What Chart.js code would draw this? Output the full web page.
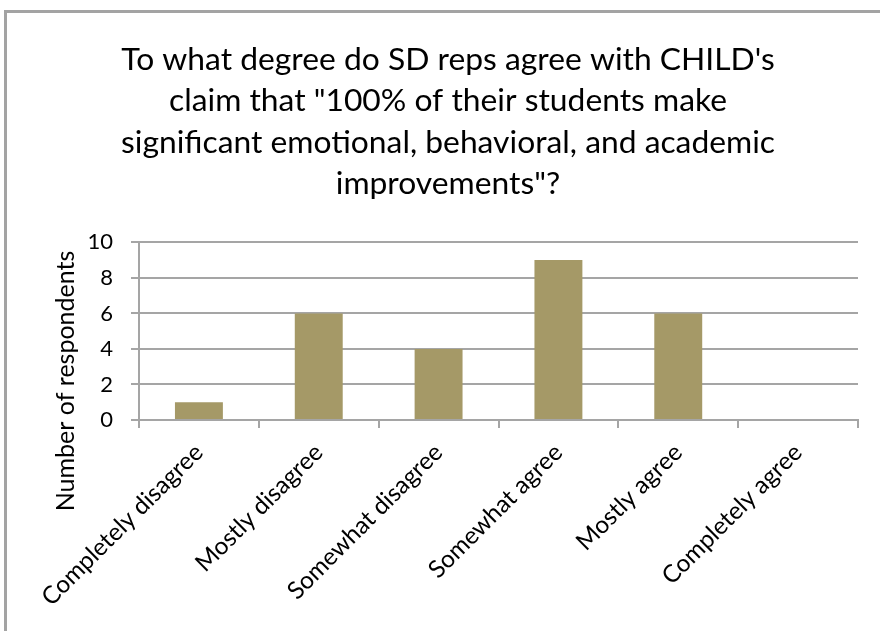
<!DOCTYPE html>
<html>
<head>
<meta charset="utf-8">
<script src="https://cdn.jsdelivr.net/npm/chart.js@4"></script>
<style>
  html, body { margin: 0; padding: 0; background: #fff; overflow: hidden; }
  #wrap { position: relative; width: 880px; height: 631px; }
  #frame { position: absolute; left: 4px; top: 10px; width: 900px; height: 700px; border: 3px solid #a3a3a3; box-sizing: border-box; pointer-events: none; }
  canvas { position: absolute; left: 0; top: 0; }
</style>
</head>
<body>
<div id="wrap">
  <canvas id="c" width="880" height="631"></canvas>
  <div id="frame"></div>
</div>
<script>
const titleLines = [
  "To what degree do SD reps agree with CHILD's",
  "claim that \"100% of their students make",
  "significant emotional, behavioral, and academic",
  "improvements\"?"
];
const categories = [
  "Completely disagree",
  "Mostly disagree",
  "Somewhat disagree",
  "Somewhat agree",
  "Mostly agree",
  "Completely agree"
];
const respondents = [1, 6, 4, 9, 6, 0];
const yAxisTitle = "Number of respondents";
const yMin = 0, yMax = 10, yStep = 2;

const FONT = "Lato, 'Open Sans', sans-serif";
const GRID = '#a5a5a5';

const yTitlePlugin = {
  id: 'yTitle',
  afterDraw(chart) {
    const ctx = chart.ctx;
    ctx.save();
    ctx.translate(66, 381);
    ctx.rotate(-Math.PI / 2);
    ctx.font = "25px " + FONT;
    ctx.fillStyle = '#000';
    ctx.textAlign = 'center';
    ctx.textBaseline = 'middle';
    ctx.fillText(yAxisTitle, 0, 0);
    ctx.restore();
  }
};

new Chart(document.getElementById('c'), {
  type: 'bar',
  data: {
    labels: categories,
    datasets: [{
      data: respondents,
      backgroundColor: '#a59967',
      borderWidth: 0,
      barPercentage: 0.4,
      categoryPercentage: 1.0
    }]
  },
  options: {
    responsive: false,
    animation: false,
    devicePixelRatio: 1,
    layout: { padding: { left: 38, right: 22, top: 0, bottom: 0 } },
    plugins: {
      legend: { display: false },
      tooltip: { enabled: false },
      title: {
        display: true,
        text: titleLines,
        color: '#000',
        font: { family: FONT, size: 31.8, weight: 'normal', lineHeight: 1.3 },
        padding: { top: 39, bottom: 38 }
      }
    },
    scales: {
      x: {
        afterFit(scale) { scale.height = 211; },
        grid: {
          display: true,
          drawOnChartArea: false,
          drawTicks: true,
          tickLength: 8,
          color: GRID,
          lineWidth: 2,
          offset: true
        },
        border: { display: true, color: GRID, width: 2 },
        ticks: {
          color: '#000',
          font: { family: FONT, size: 24.3 },
          minRotation: 45,
          maxRotation: 45,
          autoSkip: false,
          padding: 10
        }
      },
      y: {
        min: yMin,
        max: yMax,
        afterFit(scale) { scale.width = 101; },
        grid: {
          color: GRID,
          lineWidth: 2,
          tickLength: 8,
          drawTicks: true
        },
        border: { display: true, color: GRID, width: 2 },
        ticks: {
          stepSize: yStep,
          color: '#000',
          font: { family: FONT, size: 22 },
          padding: 18
        }
      }
    }
  },
  plugins: [yTitlePlugin]
});
</script>
</body>
</html>
